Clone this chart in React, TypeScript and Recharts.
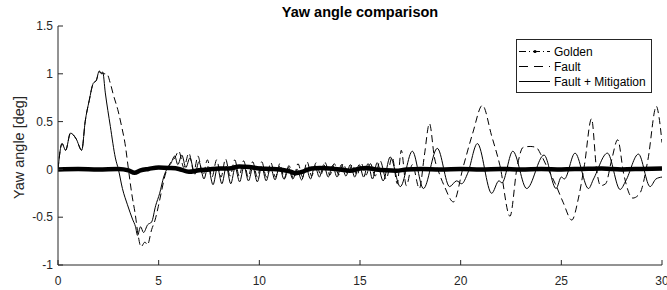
import React from 'react'
import { LineChart, Line, XAxis, YAxis } from 'recharts'

const FONT = '"Liberation Sans", Arial, Helvetica, sans-serif'
const INK = '#262626'

const xTicks = [0, 5, 10, 15, 20, 25, 30]
const yTicks = [-1, -0.5, 0, 0.5, 1, 1.5]
const seriesNames = ['Golden', 'Fault', 'Fault + Mitigation']

// [time s, yaw deg]
const goldenPts: [number, number][] = [
  [0, 0], [1, 0.005], [2, 0], [3, 0.005], [3.5, -0.01], [3.8, -0.035], [4.1, -0.01],
  [4.5, 0.005], [5, 0.02], [5.5, 0.015], [6, 0.005], [6.5, -0.025], [7, -0.01], [7.5, 0],
  [8, 0.01], [8.5, 0.01], [9, 0.03], [9.5, 0.025], [10, 0.01], [10.5, 0.005], [11, 0],
  [11.5, -0.02], [11.8, -0.04], [12.2, -0.02], [12.6, 0.01], [13, 0.015], [13.5, 0.01],
  [14, 0], [14.5, -0.015], [15, 0.01], [15.3, 0.015], [15.8, 0], [16.3, -0.01],
  [16.8, -0.015], [17.3, 0], [18, 0.005], [19, 0], [20, 0.005], [21, 0], [22, 0.005],
  [23, 0], [24, 0.005], [25, 0], [26, 0.005], [27, 0.01], [28, 0], [29, 0.005], [30, 0.01],
]

const faultPts: [number, number][] = [
  [0, 0], [0.2, 0.27], [0.38, 0.2], [0.62, 0.38], [0.9, 0.32], [1.18, 0.2], [1.35, 0.5],
  [1.55, 0.72], [1.75, 0.9], [1.9, 0.93], [2.05, 1.02], [2.25, 1.0], [2.42, 1.0], [2.6, 0.9],
  [2.75, 0.78], [3.0, 0.6], [3.16, 0.45], [3.33, 0.27], [3.5, 0], [3.66, -0.25], [3.83, -0.46],
  [3.99, -0.7], [4.12, -0.81], [4.32, -0.76], [4.44, -0.79], [4.65, -0.63], [4.82, -0.53],
  [4.98, -0.39], [5.15, -0.22], [5.32, -0.06], [5.56, 0.06], [5.8, 0.12], [6.0, 0.19],
  [6.25, 0.02], [6.5, 0.17], [6.75, -0.02], [6.95, 0.14], [7.2, -0.06], [7.42, 0.1],
  [7.65, -0.08], [7.88, 0.1], [8.1, -0.08], [8.32, 0.11], [8.55, -0.07], [8.78, 0.1],
  [9.0, -0.07], [9.22, 0.09], [9.45, -0.08], [9.67, 0.08], [9.9, -0.08], [10.12, 0.08],
  [10.35, -0.08], [10.57, 0.07], [10.8, -0.08], [11.02, 0.06], [11.25, -0.1], [11.47, 0.04],
  [11.7, -0.1], [11.92, 0.06], [12.15, -0.08], [12.37, 0.08], [12.6, -0.07], [12.82, 0.07],
  [13.05, -0.06], [13.27, 0.07], [13.5, -0.06], [13.72, 0.06], [13.95, -0.06], [14.17, 0.06],
  [14.4, -0.05], [14.62, 0.05], [14.85, -0.06], [15.07, 0.06], [15.3, -0.06], [15.52, 0.06],
  [15.75, -0.07], [16.0, 0.09], [16.3, -0.1], [16.6, 0.13], [16.85, -0.15], [17.05, 0.2],
  [17.3, -0.17], [17.6, 0.05], [17.95, -0.2], [18.2, 0.15], [18.45, 0.48], [18.7, 0.12],
  [18.95, -0.05], [19.2, -0.18], [19.64, -0.34], [20.13, 0.03], [20.6, 0.38], [21.08, 0.67],
  [21.54, 0.35], [21.95, 0.04], [22.45, -0.49], [22.8, 0.02], [23.1, 0.23], [23.45, 0.24],
  [23.75, 0.23], [24.0, 0.15], [24.3, 0.02], [24.7, -0.15], [25.1, -0.35], [25.52, -0.53],
  [25.85, -0.3], [26.15, 0.05], [26.5, 0.53], [26.75, 0], [26.95, -0.17], [27.2, -0.15],
  [27.5, 0.1], [27.8, 0.31], [28.1, -0.05], [28.55, -0.3], [28.9, -0.25], [29.3, 0.1],
  [29.72, 0.66], [29.85, 0.55], [30, 0.28],
]

const mitigationPts: [number, number][] = [
  [0, 0], [0.2, 0.27], [0.38, 0.2], [0.62, 0.38], [0.9, 0.32], [1.18, 0.2], [1.35, 0.5],
  [1.55, 0.72], [1.75, 0.9], [1.9, 0.93], [2.05, 1.03], [2.15, 1.0], [2.22, 1.02], [2.35, 0.8],
  [2.6, 0.45], [2.85, 0.12], [3.0, 0], [3.2, -0.2], [3.45, -0.37], [3.7, -0.52], [3.85, -0.6],
  [3.95, -0.69], [4.1, -0.6], [4.25, -0.66], [4.45, -0.58], [4.65, -0.55], [4.85, -0.38],
  [5.05, -0.25], [5.25, -0.08], [5.45, 0.02], [5.6, 0.06], [5.8, 0.14], [5.95, 0.05],
  [6.15, 0.15], [6.35, 0.02], [6.55, 0.12], [6.8, -0.05], [7.0, 0.08], [7.25, -0.1],
  [7.45, 0.03], [7.7, -0.16], [7.92, 0.02], [8.14, -0.15], [8.36, 0.03], [8.58, -0.15],
  [8.8, 0.02], [9.02, -0.13], [9.24, 0.03], [9.46, -0.12], [9.68, 0.02], [9.9, -0.13],
  [10.12, 0.03], [10.34, -0.12], [10.56, 0.02], [10.78, -0.11], [11.0, 0.03], [11.22, -0.1],
  [11.44, 0.02], [11.66, -0.1], [11.88, 0], [12.1, -0.11], [12.32, 0.02], [12.54, -0.1],
  [12.76, 0.04], [12.98, -0.08], [13.2, 0.05], [13.42, -0.08], [13.64, 0.04], [13.86, -0.08],
  [14.08, 0.05], [14.3, -0.07], [14.52, 0.05], [14.74, -0.08], [14.96, 0.05], [15.18, -0.08],
  [15.4, 0.06], [15.62, -0.1], [15.85, 0.07], [16.15, -0.12], [16.5, 0.13], [17.0, -0.18],
  [17.6, 0.19], [18.15, -0.2], [18.84, 0.22], [19.45, -0.18], [19.8, -0.12], [20.05, -0.15],
  [20.35, -0.04], [20.83, 0.27], [21.54, -0.25], [21.9, -0.12], [22.05, -0.14], [22.59, 0.19],
  [23.28, -0.2], [24.14, 0.15], [24.74, -0.2], [25.0, -0.08], [25.15, -0.1], [25.68, 0.17],
  [26.35, -0.2], [26.6, -0.1], [27.29, 0.17], [27.92, -0.21], [28.2, -0.12], [28.83, 0.16],
  [29.41, -0.18], [29.7, -0.1], [30, -0.08],
]

const toRows = (pts: [number, number][]) => pts.map(([x, y]) => ({ x, y }))

const tickStyle = { fontSize: 12, fill: INK, fontFamily: FONT }

function LegendBox() {
  const rows = [51.5, 66.5, 81.5]
  return (
    <g>
      <rect x={516.5} y={39.5} width={135} height={53} fill="#fff" stroke={INK} strokeWidth={1} />
      <line x1={519} x2={550} y1={rows[0]} y2={rows[0]} stroke="#000" strokeDasharray="7 3 1 3" />
      <circle cx={535} cy={rows[0]} r={1.6} fill="#000" />
      <line x1={519} x2={550} y1={rows[1]} y2={rows[1]} stroke="#000" strokeDasharray="9 6" />
      <line x1={519} x2={550} y1={rows[2]} y2={rows[2]} stroke="#000" />
      {seriesNames.map((n, i) => (
        <text key={n} x={554} y={rows[i]} dominantBaseline="central" fontSize={12} fill="#000" fontFamily={FONT}>
          {n}
        </text>
      ))}
    </g>
  )
}

export default function App() {
  return (
    <div style={{ position: 'relative', width: 667, height: 290, background: '#fff' }}>
      <style>{'body{margin:0}'}</style>
      <LineChart width={667} height={290} margin={{ top: 26, right: 5, bottom: 0, left: 8 }}>
        <XAxis
          type="number"
          dataKey="x"
          domain={[0, 30]}
          ticks={xTicks}
          interval={0}
          allowDataOverflow
          height={25}
          tickSize={-5}
          tickMargin={16}
          stroke={INK}
          tick={tickStyle}
        />
        <XAxis
          xAxisId="top"
          orientation="top"
          type="number"
          dataKey="x"
          domain={[0, 30]}
          ticks={xTicks}
          interval={0}
          allowDataOverflow
          height={0}
          tickSize={-5}
          stroke={INK}
          tickFormatter={() => ''}
        />
        <YAxis
          type="number"
          domain={[-1, 1.5]}
          ticks={yTicks}
          interval={0}
          allowDataOverflow
          width={50}
          tickSize={-5}
          tickMargin={10}
          stroke={INK}
          tick={tickStyle}
        />
        <YAxis
          yAxisId="right"
          orientation="right"
          type="number"
          domain={[-1, 1.5]}
          ticks={yTicks}
          interval={0}
          allowDataOverflow
          width={0}
          tickSize={-5}
          stroke={INK}
          tickFormatter={() => ''}
        />
        <Line
          data={toRows(faultPts)}
          dataKey="y"
          name="Fault"
          type="monotone"
          stroke="#000"
          strokeWidth={1}
          strokeDasharray="7 4"
          dot={false}
          activeDot={false}
          isAnimationActive={false}
        />
        <Line
          data={toRows(mitigationPts)}
          dataKey="y"
          name="Fault + Mitigation"
          type="monotone"
          stroke="#000"
          strokeWidth={1}
          dot={false}
          activeDot={false}
          isAnimationActive={false}
        />
        <Line
          data={toRows(goldenPts)}
          dataKey="y"
          name="Golden"
          type="monotone"
          stroke="#000"
          strokeWidth={4.5}
          dot={false}
          activeDot={false}
          isAnimationActive={false}
        />
      </LineChart>
      <svg width={667} height={290} style={{ position: 'absolute', left: 0, top: 0, pointerEvents: 'none' }}>
        <text x={360} y={17} textAnchor="middle" fontSize={14.5} fontWeight="bold" fill="#000" fontFamily={FONT}>
          Yaw angle comparison
        </text>
        <text
          x={19}
          y={147.5}
          transform="rotate(-90 19 147.5)"
          textAnchor="middle"
          dominantBaseline="central"
          fontSize={14.5}
          fill={INK}
          fontFamily={FONT}
        >
          Yaw angle [deg]
        </text>
        <LegendBox />
      </svg>
    </div>
  )
}
